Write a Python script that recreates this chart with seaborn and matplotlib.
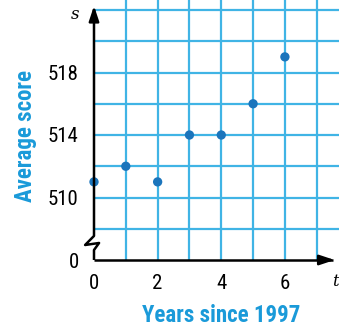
import matplotlib
matplotlib.use('Agg')
import matplotlib.pyplot as plt
import pandas as pd
import seaborn as sns

years = [0, 1, 2, 3, 4, 5, 6]
scores = [511, 512, 511, 514, 514, 516, 519]
x_ticks = [0, 2, 4, 6]
y_ticks = [506, 510, 514, 518]
y_tick_labels = ['0', '510', '514', '518']

grid_color = '#40b4e5'
point_color = '#1b75bc'
label_color = '#1a9ad9'

plt.rcParams['font.family'] = ['Roboto Condensed', 'DejaVu Sans']

df = pd.DataFrame({'t': years, 's': scores})

fig = plt.figure(figsize=(3.39, 3.26), dpi=100)
ax = fig.add_axes([94 / 339, 66 / 326, 245 / 339, 260 / 326])

xmax, ymin, ymax = 7.7, 506, 522.64
ax.set_xlim(0, xmax)
ax.set_ylim(ymin, ymax)

# grid
for gx in range(1, 8):
    ax.axvline(gx, color=grid_color, lw=1.6, zorder=1)
for gy in range(508, 523, 2):
    ax.axhline(gy, color=grid_color, lw=1.6, zorder=1)

sns.scatterplot(data=df, x='t', y='s', ax=ax, color=point_color, s=45,
                edgecolor='none', zorder=5, clip_on=False)

for sp in ax.spines.values():
    sp.set_visible(False)

# y axis with break
axis_kw = dict(color='black', lw=1.8, clip_on=False, zorder=6, solid_capstyle='butt')
ax.plot([0, 0, -0.28, 0.16, 0, 0], [ymax - 0.6, 507.54, 506.96, 507.09, 506.64, ymin], **axis_kw)
ax.plot([0, xmax - 0.2], [ymin, ymin], **axis_kw)
ax.annotate('', xy=(0, ymax - 0.2), xytext=(0, ymax - 1.2), annotation_clip=False,
            arrowprops=dict(arrowstyle='-|>,head_length=0.9,head_width=0.3', color='black', lw=1.8))
ax.annotate('', xy=(xmax - 0.05, ymin), xytext=(xmax - 0.6, ymin), annotation_clip=False,
            arrowprops=dict(arrowstyle='-|>,head_length=0.9,head_width=0.3', color='black', lw=1.8))

ax.text(-0.6, 521.7, 's', fontsize=12, style='italic', family='DejaVu Serif',
        ha='center', va='center')
ax.text(xmax, 504.6, 't', fontsize=12, style='italic', family='DejaVu Serif',
        ha='right', va='center', clip_on=False)

ax.set_xticks(x_ticks)
ax.set_yticks(y_ticks)
ax.set_yticklabels(y_tick_labels)
ax.tick_params(length=0, labelsize=15)
ax.tick_params(axis='x', pad=10)
ax.tick_params(axis='y', pad=11)

ax.set_xlabel('Years since 1997', fontsize=16.5, fontweight='bold', color=label_color)
ax.set_ylabel('Average score', fontsize=16.5, fontweight='bold', color=label_color)
ax.xaxis.set_label_coords(0.518, -0.215)
ax.yaxis.set_label_coords(-0.278, 0.477)
ax.xaxis.label.set_va('center')
ax.yaxis.label.set_va('center')

fig.savefig('out.png', dpi=100)
